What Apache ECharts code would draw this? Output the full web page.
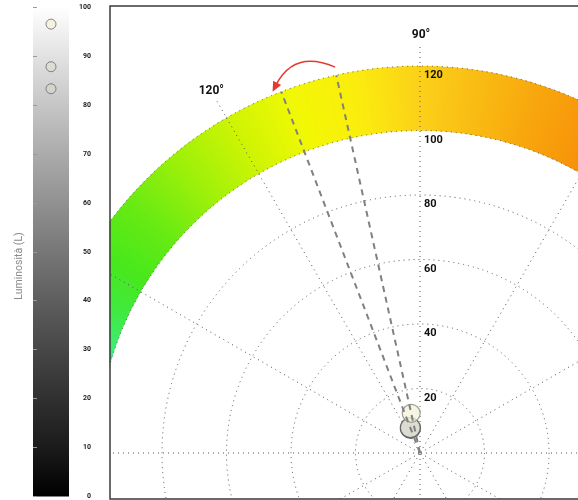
<!DOCTYPE html>
<html><head><meta charset="utf-8">
<script src="https://cdn.jsdelivr.net/npm/echarts@6/dist/echarts.min.js"></script>
<style>html,body{margin:0;padding:0;background:#fff}#c{width:578px;height:500px}</style>
</head><body><div id="c"></div>
<script>
// ---- data ----
const radiusTicks = [20, 40, 60, 80, 100, 120];
const radiusTickLabels = ['20', '40', '60', '80', '100', '120'];
const angleTicks = [0, 30, 60, 90, 120, 150, 180, 210, 240, 270, 300, 330];
const angleTickLabels = ['0°', '30°', '60°', '90°', '120°', '150°', '180°', '210°', '240°', '270°', '300°', '330°'];
const lightness = [96.5, 87.8, 83.3];
const chroma = [12.6, 8.4, 8.2];
const hue = [102.5, 111, 111];
const pointColors = ['#f4f1dc', '#dcdcd2', '#d4d4ca'];
const hueLines = [102.5, 111];
const arrowHues = [102.4, 112.2];
const arrowRadii = [122.5, 121, 131];
const bandRange = [100, 120];
const labelRadius = 130;
const bandStops = [
  [40, '#f47008'], [50, '#f57c08'], [60, '#f78e0a'], [70, '#f8a20c'], [80, '#f9b912'],
  [90, '#fbd01a'], [100, '#fbec0e'], [110, '#f2f804'], [120, '#cdf404'], [130, '#9cf00a'],
  [140, '#66ea14'], [148, '#48e81c'], [155, '#40ea40'], [162, '#3cee78'], [170, '#38f0a8'], [185, '#30eed0']
];
const lumTicksMin = 0, lumTicksMax = 100, lumInterval = 10;

function hex2rgb(h){return [parseInt(h.slice(1,3),16),parseInt(h.slice(3,5),16),parseInt(h.slice(5,7),16)];}
function mix(a,b,t){const x=hex2rgb(a),y=hex2rgb(b);return 'rgb('+x.map((v,i)=>Math.round(v+(y[i]-v)*t)).join(',')+')';}
function lToGray(L){ // CIE L* -> sRGB gray
  const Y = L > 8 ? Math.pow((L+16)/116,3) : L/903.3;
  const s = Y <= 0.0031308 ? 12.92*Y : 1.055*Math.pow(Y,1/2.4)-0.055;
  const v = Math.round(Math.min(1,Math.max(0,s))*255);
  return 'rgb('+v+','+v+','+v+')';
}
const grayStops = [];
for (let L = 100; L >= 0; L -= 10) grayStops.push({offset:(100-L)/100, color: lToGray(L)});

const dotted = [1, 4];
const chart = echarts.init(document.getElementById('c'), null, {renderer:'canvas'});

function renderBand(params, api){
  const i = params.dataIndex;
  if (i >= bandStops.length - 1) return null;
  const c = api.coord([0, 90]);
  const rIn = c[1] - api.coord([bandRange[0], 90])[1];
  const rOut = c[1] - api.coord([bandRange[1], 90])[1];
  const a0 = bandStops[i][0], a1 = bandStops[i+1][0];
  const n = Math.max(1, Math.round((a1 - a0) * 2));
  const children = [];
  for (let k = 0; k < n; k++){
    const s = a0 + (a1-a0)*k/n, e = a0 + (a1-a0)*(k+1)/n;
    const col = mix(bandStops[i][1], bandStops[i+1][1], (k+0.5)/n);
    const lo = s - 0.2, hi = e + 0.2;
    children.push({type:'sector', shape:{cx:c[0], cy:c[1], r0:rIn, r:rOut,
      startAngle:-hi*Math.PI/180, endAngle:-lo*Math.PI/180, clockwise:true},
      style:{fill:col}});
  }
  return {type:'group', children};
}

function renderArrow(params, api){
  const p0 = api.coord([arrowRadii[0], arrowHues[0]]);
  const p1 = api.coord([arrowRadii[1], arrowHues[1]]);
  const cp = api.coord([arrowRadii[2], (arrowHues[0]+arrowHues[1])/2]);
  const dx = p1[0]-cp[0], dy = p1[1]-cp[1], L = Math.hypot(dx,dy);
  const ux = dx/L, uy = dy/L, len = 10, w = 4.5;
  const b = [p1[0]-ux*len, p1[1]-uy*len];
  return {type:'group', children:[
    {type:'bezierCurve', shape:{x1:p0[0], y1:p0[1], x2:b[0]+ux*2, y2:b[1]+uy*2, cpx1:cp[0], cpy1:cp[1]},
      style:{stroke:'#e5392f', lineWidth:1.5, fill:null}},
    {type:'polygon', shape:{points:[[p1[0],p1[1]],[b[0]-uy*w,b[1]+ux*w],[b[0]+uy*w,b[1]-ux*w]]},
      style:{fill:'#e5392f'}}
  ]};
}

function renderRadiusLabel(params, api){
  const i = params.dataIndex;
  const p = api.coord([radiusTicks[i], 90]);
  return {type:'text', x:p[0]+4, y:p[1]+9.5, style:{text:radiusTickLabels[i], fill:'#111',
    font:'bold 11px Roboto, Arial, sans-serif', align:'left', verticalAlign:'middle'}};
}
function renderAngleLabel(params, api){
  const i = params.dataIndex;
  const p = api.coord([labelRadius, angleTicks[i]]);
  return {type:'text', x:p[0]+1, y:p[1]+1, style:{text:angleTickLabels[i], fill:'#111',
    font:'bold 12px Roboto, Arial, sans-serif', align:'center', verticalAlign:'middle'}};
}

const series = [
  {type:'custom', coordinateSystem:'polar', renderItem:renderBand, z:1, silent:true,
    data: bandStops.map(s => [110, s[0]])},
  {type:'scatter', coordinateSystem:'polar', z:4, silent:true,
    data: chroma.map((c,i)=>({value:[c, hue[i]], symbolSize: i===0?18:20,
      itemStyle:{color:pointColors[i], borderColor: i===0?'#8a8a80':'#555', borderWidth:1.2}})).reverse()},
  ...hueLines.map(h => ({type:'line', coordinateSystem:'polar', z:5, clip:false, silent:true,
    showSymbol:false, symbol:'none', data:[[0,h],[bandRange[1],h]],
    lineStyle:{color:'#808080', width:2, type:[6,5]}})),
  {type:'custom', coordinateSystem:'polar', renderItem:renderArrow, z:6, silent:true, data:[[120, 105]]},
  {type:'custom', coordinateSystem:'polar', renderItem:renderRadiusLabel, z:6, silent:true,
    data: radiusTicks.map(r => [r, 90])},
  {type:'custom', coordinateSystem:'polar', renderItem:renderAngleLabel, z:6, silent:true,
    data: angleTicks.map(a => [labelRadius, a])},
  {type:'scatter', xAxisIndex:0, yAxisIndex:0, z:62, silent:true,
    data: lightness.map((L,i)=>({value:[0.5, L], itemStyle:{color:pointColors[i]}})),
    symbolSize:10, itemStyle:{borderColor:'#6a6a6a', borderWidth:1}}
];

chart.setOption({
  animation:false,
  backgroundColor:'#fff',
  polar:{center:[420, 453], radius:[0, 387]},
  angleAxis:{type:'value', min:0, max:360, interval:30, startAngle:0, clockwise:false, z:3,
    axisLine:{show:false}, axisLabel:{show:false},
    axisTick:{show:true, length:19, lineStyle:{color:'#555', width:1, type:dotted}},
    splitLine:{show:true, lineStyle:{color:'#555', width:1, type:dotted}}},
  radiusAxis:{type:'value', min:0, max:120, interval:20, z:3,
    axisLine:{show:false}, axisTick:{show:false}, axisLabel:{show:false},
    splitLine:{show:true, lineStyle:{color:'#555', width:1, type:dotted}}},
  grid:{left:33, top:7, width:36, height:491, show:true, z:60, borderWidth:0,
    backgroundColor:new echarts.graphic.LinearGradient(0,0,0,1,grayStops)},
  xAxis:{type:'value', min:0, max:1, show:false, z:60},
  yAxis:{type:'value', min:lumTicksMin, max:lumTicksMax, interval:lumInterval, position:'right', z:60,
    axisLine:{show:false}, splitLine:{show:false},
    axisTick:{show:true, length:4, lineStyle:{color:'#999'}},
    axisLabel:{margin:22, align:'right', color:'#222', fontSize:7, fontWeight:'bold', fontFamily:'Roboto, Arial, sans-serif'}},
  graphic:[
    {type:'rect', z:50, silent:true, shape:{x:0, y:0, width:109.5, height:500}, style:{fill:'#fff'}},
    {type:'rect', z:50, silent:true, shape:{x:0, y:499, width:578, height:1}, style:{fill:'#fff'}},
    {type:'rect', z:50, silent:true, shape:{x:0, y:0, width:578, height:5.5}, style:{fill:'#fff'}},
    {type:'rect', z:55, silent:true, shape:{x:110, y:6, width:520, height:493}, style:{fill:null, stroke:'#3a3a3a', lineWidth:1.5}},
    {type:'text', z:60, silent:true, x:19, y:266, rotation:Math.PI/2,
      style:{text:'Luminosità (L)', fill:'#8a8a8a', font:'10.5px Roboto, Arial, sans-serif', align:'center', verticalAlign:'middle'}}
  ],
  series
});
</script></body></html>
